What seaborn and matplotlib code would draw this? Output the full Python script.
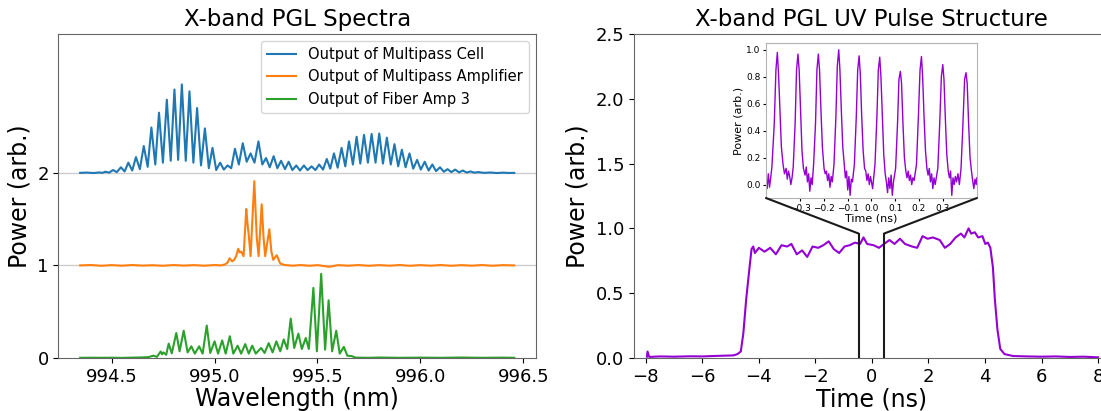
import numpy as np
import matplotlib
matplotlib.use("Agg")
import matplotlib.pyplot as plt
from matplotlib.patches import ConnectionPatch
import seaborn as sns

# ---- spectra (offsets already included) ----
cell_nm = [994.347, 994.38, 994.41, 994.44, 994.455, 994.47, 994.488, 994.506, 994.525, 994.545,
           994.563, 994.581, 994.600, 994.618, 994.637, 994.656, 994.675, 994.693, 994.712, 994.730,
           994.749, 994.768, 994.787, 994.805, 994.823, 994.841, 994.860, 994.878, 994.897, 994.915,
           994.934, 994.953, 994.972, 994.990, 995.008, 995.027, 995.045, 995.063, 995.081, 995.099,
           995.118, 995.137, 995.156, 995.175, 995.194, 995.213, 995.232, 995.250, 995.268, 995.287,
           995.305, 995.323, 995.342, 995.360, 995.378, 995.397, 995.415, 995.434, 995.452, 995.471,
           995.490, 995.508, 995.527, 995.545, 995.562, 995.580, 995.598, 995.617, 995.635, 995.653,
           995.672, 995.690, 995.708, 995.726, 995.745, 995.763, 995.782, 995.800, 995.818, 995.837,
           995.856, 995.874, 995.892, 995.910, 995.928, 995.947, 995.965, 995.984, 996.002, 996.021,
           996.040, 996.058, 996.076, 996.095, 996.114, 996.132, 996.150, 996.169, 996.188, 996.206,
           996.225, 996.243, 996.262, 996.280, 996.31, 996.34, 996.37, 996.40, 996.43, 996.456]
cell_pw = [2.000, 2.003, 1.998, 2.004, 2.000, 2.012, 2.002, 2.030, 2.008, 2.060,
           2.015, 2.110, 2.025, 2.170, 2.040, 2.290, 2.065, 2.490, 2.090, 2.650,
           2.110, 2.790, 2.130, 2.900, 2.140, 2.955, 2.130, 2.880, 2.110, 2.700,
           2.080, 2.480, 2.050, 2.270, 2.030, 2.110, 2.035, 2.080, 2.050, 2.260,
           2.090, 2.320, 2.120, 2.210, 2.110, 2.340, 2.090, 2.160, 2.060, 2.180,
           2.050, 2.130, 2.040, 2.120, 2.030, 2.080, 2.025, 2.080, 2.030, 2.070,
           2.030, 2.090, 2.035, 2.150, 2.045, 2.210, 2.055, 2.270, 2.070, 2.340,
           2.090, 2.390, 2.100, 2.410, 2.110, 2.420, 2.110, 2.425, 2.100, 2.380,
           2.090, 2.310, 2.070, 2.250, 2.060, 2.210, 2.045, 2.140, 2.035, 2.120,
           2.025, 2.090, 2.018, 2.060, 2.012, 2.040, 2.008, 2.035, 2.005, 2.025,
           2.003, 2.015, 2.002, 2.008, 2.000, 2.004, 1.998, 2.002, 1.999, 2.000]

amp_nm = [994.347, 994.40, 994.45, 994.50, 994.55, 994.60, 994.65, 994.70, 994.75, 994.80,
          994.85, 994.90, 994.95, 995.00, 995.03, 995.05, 995.063, 995.073, 995.085, 995.095,
          995.105, 995.115, 995.122, 995.129, 995.141, 995.154, 995.160, 995.166, 995.175, 995.193,
          995.205, 995.214, 995.229, 995.238, 995.246, 995.266, 995.276, 995.285, 995.302, 995.319,
          995.34, 995.38, 995.42, 995.46, 995.50, 995.557, 995.60, 995.65, 995.70, 995.75,
          995.80, 995.85, 995.90, 995.95, 996.00, 996.05, 996.10, 996.15, 996.20, 996.25,
          996.30, 996.35, 996.40, 996.456]
amp_pw = [1.000, 1.004, 0.996, 1.003, 0.997, 1.004, 0.998, 1.002, 0.996, 1.004,
          0.998, 1.003, 0.997, 1.004, 1.000, 1.010, 1.030, 1.077, 1.045, 1.060,
          1.100, 1.180, 1.140, 1.150, 1.100, 1.610, 1.450, 1.330, 1.100, 1.910,
          1.300, 1.100, 1.660, 1.300, 1.100, 1.390, 1.150, 1.060, 1.110, 1.020,
          1.005, 0.997, 1.004, 0.996, 1.003, 0.985, 1.003, 0.997, 1.004, 0.996,
          1.003, 0.997, 1.004, 0.996, 1.003, 0.997, 1.004, 0.996, 1.003, 0.997,
          1.004, 0.996, 1.003, 1.000]

fiber_nm = [994.347, 994.40, 994.45, 994.50, 994.55, 994.60, 994.65, 994.68, 994.702, 994.720,
            994.738, 994.745, 994.751, 994.765, 994.777, 994.792, 994.814, 994.830, 994.850, 994.869,
            994.887, 994.904, 994.925, 994.942, 994.962, 994.979, 995.000, 995.017, 995.037, 995.054,
            995.074, 995.091, 995.112, 995.129, 995.149, 995.166, 995.183, 995.200, 995.226, 995.243,
            995.263, 995.282, 995.300, 995.319, 995.336, 995.353, 995.370, 995.387, 995.407, 995.424,
            995.443, 995.458, 995.480, 995.497, 995.518, 995.537, 995.554, 995.571, 995.591, 995.608,
            995.628, 995.645, 995.667, 995.684, 995.75, 995.80, 995.90, 996.00, 996.10, 996.20,
            996.30, 996.40, 996.456]
fiber_pw = [0.002, 0.003, 0.002, 0.003, 0.001, 0.004, 0.006, 0.010, 0.025, 0.012,
            0.070, 0.040, 0.060, 0.035, 0.155, 0.050, 0.270, 0.072, 0.295, 0.060,
            0.126, 0.047, 0.126, 0.047, 0.350, 0.054, 0.180, 0.047, 0.190, 0.047,
            0.235, 0.047, 0.133, 0.047, 0.150, 0.047, 0.133, 0.047, 0.108, 0.054,
            0.160, 0.060, 0.180, 0.072, 0.200, 0.097, 0.425, 0.108, 0.263, 0.097,
            0.216, 0.097, 0.757, 0.072, 0.908, 0.090, 0.623, 0.072, 0.295, 0.047,
            0.120, 0.025, 0.020, 0.004, 0.002, 0.005, 0.002, 0.004, 0.002, 0.005,
            0.002, 0.004, 0.002]

spectra_labels = ["Output of Multipass Cell", "Output of Multipass Amplifier", "Output of Fiber Amp 3"]
offset_lines = [1, 2]

# ---- UV pulse (full envelope) ----
pulse_t = [-7.96, -7.94, -7.88, -7.5, -7.0, -6.43, -6.0, -5.5, -5.19, -4.9,
           -4.76, -4.64, -4.55, -4.45, -4.35, -4.26, -4.2, -4.14, -4.0, -3.8,
           -3.6, -3.4, -3.2, -3.0, -2.85, -2.66, -2.47, -2.29, -2.1, -1.9,
           -1.72, -1.53, -1.35, -1.16, -0.97, -0.79, -0.6, -0.42, -0.3, -0.17,
           0.06, 0.25, 0.43, 0.62, 0.8, 0.99, 1.17, 1.42, 1.6, 1.79,
           1.97, 2.16, 2.4, 2.58, 2.77, 2.96, 3.15, 3.27, 3.42, 3.51,
           3.64, 3.76, 3.91, 4.01, 4.1, 4.19, 4.28, 4.35, 4.44, 4.54,
           4.69, 5.0, 5.5, 6.0, 6.5, 7.0, 7.5, 8.0]
pulse_pw = [0.01, 0.05, 0.008, 0.012, 0.01, 0.013, 0.012, 0.016, 0.018, 0.02,
            0.03, 0.05, 0.19, 0.45, 0.66, 0.84, 0.86, 0.81, 0.85, 0.82,
            0.85, 0.80, 0.87, 0.86, 0.88, 0.80, 0.83, 0.78, 0.86, 0.85,
            0.87, 0.90, 0.84, 0.81, 0.86, 0.87, 0.89, 0.88, 0.93, 0.88,
            0.87, 0.85, 0.88, 0.91, 0.88, 0.92, 0.88, 0.86, 0.85, 0.94,
            0.92, 0.93, 0.91, 0.85, 0.88, 0.93, 0.96, 0.93, 1.0, 0.96,
            0.97, 0.93, 0.94, 0.88, 0.89, 0.85, 0.70, 0.45, 0.22, 0.07,
            0.03, 0.015, 0.012, 0.01, 0.012, 0.008, 0.01, 0.005]

# ---- UV pulse (zoomed, inset) ----
inset_t = [-0.445, -0.44, -0.435, -0.43, -0.425, -0.42, -0.41, -0.403, -0.397, -0.392,
           -0.386, -0.38, -0.373, -0.367, -0.36, -0.355, -0.35, -0.345, -0.34, -0.335,
           -0.33, -0.322, -0.316, -0.310, -0.305, -0.299, -0.293, -0.287, -0.28, -0.275,
           -0.27, -0.265, -0.26, -0.255, -0.25,
           -0.244, -0.236, -0.23, -0.224, -0.219, -0.213, -0.207, -0.2, -0.195, -0.19,
           -0.185, -0.18, -0.175, -0.17, -0.165,
           -0.158, -0.15, -0.144, -0.138, -0.133, -0.127, -0.121, -0.115, -0.11, -0.105,
           -0.1, -0.095, -0.09, -0.085, -0.08,
           -0.072, -0.064, -0.058, -0.052, -0.047, -0.041, -0.035, -0.029, -0.024, -0.019,
           -0.014, -0.009, -0.004, 0.0, 0.005,
           0.015, 0.023, 0.029, 0.035, 0.04, 0.046, 0.052, 0.058, 0.063, 0.068,
           0.073, 0.078, 0.083, 0.088, 0.093,
           0.102, 0.11, 0.116, 0.122, 0.127, 0.133, 0.139, 0.145, 0.15, 0.155,
           0.16, 0.165, 0.17, 0.175, 0.18,
           0.19, 0.198, 0.205, 0.211, 0.216, 0.222, 0.228, 0.234, 0.239, 0.244,
           0.249, 0.254, 0.259, 0.264, 0.269,
           0.28, 0.288, 0.295, 0.301, 0.306, 0.312, 0.318, 0.324, 0.329, 0.334,
           0.339, 0.344, 0.349, 0.354, 0.359,
           0.365, 0.371, 0.378, 0.386, 0.393, 0.399, 0.404, 0.41, 0.416, 0.422,
           0.427, 0.432, 0.437, 0.442, 0.445]
inset_pw = [0.05, -0.03, 0.08, -0.02, 0.05, 0.13, 0.45, 0.85, 0.98, 0.82,
            0.55, 0.28, 0.15, 0.08, 0.12, 0.04, 0.10, 0.06, 0.0, 0.05,
            0.13, 0.45, 0.85, 0.968, 0.85, 0.55, 0.25, 0.12, 0.07, 0.13,
            0.02, 0.08, -0.05, 0.05, 0.0,
            0.15, 0.45, 0.85, 0.968, 0.85, 0.55, 0.28, 0.12, 0.08, 0.1,
            0.03, 0.08, -0.02, 0.06, 0.02,
            0.15, 0.5, 0.88, 1.0, 0.85, 0.55, 0.28, 0.15, 0.05, 0.1,
            -0.04, 0.06, -0.08, 0.04, 0.02,
            0.15, 0.5, 0.85, 0.955, 0.82, 0.5, 0.25, 0.12, 0.1, 0.03,
            0.08, 0.0, 0.06, 0.02, -0.03,
            0.15, 0.5, 0.85, 0.945, 0.8, 0.5, 0.22, 0.08, 0.02, -0.06,
            0.05, -0.03, 0.07, -0.08, 0.02,
            0.12, 0.45, 0.78, 0.84, 0.75, 0.45, 0.2, 0.1, 0.05, 0.1,
            0.03, 0.07, 0.0, 0.05, 0.03,
            0.15, 0.5, 0.85, 0.95, 0.8, 0.5, 0.25, 0.12, 0.07, 0.12,
            0.02, 0.08, -0.03, 0.05, 0.0,
            0.12, 0.45, 0.8, 0.89, 0.78, 0.48, 0.22, 0.1, 0.05, 0.1,
            -0.08, 0.05, 0.0, 0.06, 0.02,
            0.08, 0.0, 0.12, 0.45, 0.78, 0.83, 0.75, 0.45, 0.2, 0.1,
            0.03, -0.03, 0.04, 0.0, 0.05]
inset_xticks = [-0.3, -0.2, -0.1, 0.0, 0.1, 0.2, 0.3]

zoom_edges = [-0.47, 0.43]   # where the zoom window sits on the full trace
zoom_top = 0.96

purple = "#9400d3"
edge = "0.4"

fig = plt.figure(figsize=(11.01, 4.11), dpi=100)

# left: spectra
ax1 = fig.add_axes([0.0531, 0.129, 0.4337, 0.7883])
for yl in offset_lines:
    ax1.axhline(yl, color="0.8", lw=1, zorder=0)
sns.lineplot(x=cell_nm, y=cell_pw, ax=ax1, color="tab:blue", lw=1.5, label=spectra_labels[0])
sns.lineplot(x=amp_nm, y=amp_pw, ax=ax1, color="tab:orange", lw=1.5, label=spectra_labels[1])
sns.lineplot(x=fiber_nm, y=fiber_pw, ax=ax1, color="tab:green", lw=1.5, label=spectra_labels[2])
ax1.set_ylim(0, 3.5)
ax1.set_yticks([0, 1, 2])
ax1.set_xticks([994.5, 995.0, 995.5, 996.0, 996.5])
ax1.set_title("X-band PGL Spectra", fontsize=16.5)
ax1.set_xlabel("Wavelength (nm)", fontsize=17, labelpad=1)
ax1.set_ylabel("Power (arb.)", fontsize=17)
ax1.tick_params(labelsize=13)
ax1.legend(loc="upper right", fontsize=10.5)

# right: UV pulse
ax2 = fig.add_axes([0.5758, 0.129, 0.4323, 0.7883])
sns.lineplot(x=pulse_t, y=pulse_pw, ax=ax2, color=purple, lw=1.5)
ax2.set_xlim(-8.42, 8.42)
ax2.set_ylim(0, 2.5)
ax2.set_xticks([-8, -6, -4, -2, 0, 2, 4, 6, 8])
ax2.set_yticks([0.0, 0.5, 1.0, 1.5, 2.0, 2.5])
ax2.set_title("X-band PGL UV Pulse Structure", fontsize=16.5)
ax2.set_xlabel("Time (ns)", fontsize=17, labelpad=1)
ax2.set_ylabel("Power (arb.)", fontsize=17)
ax2.tick_params(labelsize=13)

# inset
ax3 = fig.add_axes([0.6957, 0.5182, 0.1916, 0.3771])
sns.lineplot(x=inset_t, y=inset_pw, ax=ax3, color=purple, lw=1.0)
ax3.set_xlim(-0.445, 0.445)
ax3.set_ylim(-0.10, 1.05)
ax3.set_xticks(inset_xticks)
ax3.set_xlabel("Time (ns)", fontsize=8, labelpad=1)
ax3.set_ylabel("Power (arb.)", fontsize=8, labelpad=2)
ax3.tick_params(labelsize=6.5, length=2.5, pad=1.5)
for s in ax3.spines.values():
    s.set_color("0.7")

for a in (ax1, ax2):
    for s in a.spines.values():
        s.set_color(edge)

# zoom markers: vertical lines and connectors to inset corners
for xe, corner in zip(zoom_edges, [(0, 0), (1, 0)]):
    ax2.plot([xe, xe], [0, zoom_top], color="0.1", lw=1.5)
    con = ConnectionPatch(xyA=(xe, zoom_top), coordsA=ax2.transData,
                          xyB=corner, coordsB=ax3.transAxes,
                          color="0.1", lw=1.5)
    fig.add_artist(con)

fig.savefig("out.png", dpi=100)
